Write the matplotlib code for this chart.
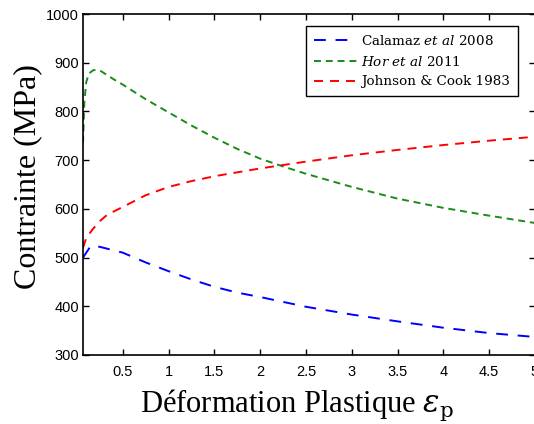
import numpy as np
import matplotlib
matplotlib.use("Agg")
import matplotlib.pyplot as plt

# courbes (deformation plastique, contrainte en MPa)
x_calamaz = [0.065, 0.15, 0.25, 0.5, 0.75, 1.0, 1.25, 1.5, 1.75, 2.0, 2.5, 3.0, 3.5, 4.0, 4.5, 5.0]
y_calamaz = [500, 524, 522, 510, 490, 472, 455, 440, 428, 419, 399, 383, 369, 356, 345, 337]

x_hor = [0.065, 0.08, 0.1, 0.13, 0.18, 0.25, 0.4, 0.5, 0.75, 1.0, 1.25, 1.5, 1.75, 2.0,
         2.25, 2.5, 3.0, 3.5, 4.0, 4.5, 5.0]
y_hor = [735, 820, 860, 878, 885, 884, 866, 855, 825, 798, 771, 746, 723, 703,
         687, 672, 645, 621, 602, 586, 571]

x_jc = [0.065, 0.1, 0.17, 0.25, 0.33, 0.5, 0.75, 1.0, 1.25, 1.5, 2.0, 2.5, 3.0, 3.5, 4.0, 4.5, 5.0]
y_jc = [520, 540, 558, 575, 588, 604, 628, 645, 657, 667, 683, 697, 710, 721, 731, 740, 748]

xticks = [0.5, 1, 1.5, 2, 2.5, 3, 3.5, 4, 4.5, 5]
yticks = [300, 400, 500, 600, 700, 800, 900, 1000]

plt.rcParams['lines.scale_dashes'] = False
plt.rcParams['mathtext.fontset'] = 'custom'
plt.rcParams['mathtext.rm'] = 'DejaVu Serif'
plt.rcParams['mathtext.it'] = 'DejaVu Serif:italic'

fig = plt.figure(figsize=(5.34, 4.24), dpi=100)
ax = fig.add_axes([83 / 534, 69 / 424, 452 / 534, 341 / 424])

l1, = ax.plot(x_calamaz, y_calamaz, color=(0, 0, 1), lw=1.4, dashes=(8.5, 7))
l2, = ax.plot(x_hor, y_hor, color=(0.1, 0.55, 0.1), lw=1.4, dashes=(5, 3.5))
l3, = ax.plot(x_jc, y_jc, color=(1, 0, 0), lw=1.4, dashes=(6.5, 5))

ax.set_xlim(0.065, 5)
ax.set_ylim(300, 1000)
ax.set_xticks(xticks)
ax.set_xticklabels([f"{t:g}" for t in xticks])
ax.set_yticks(yticks)
ax.tick_params(direction='in', top=True, right=True, length=4, width=1,
               labelsize=10.5)
ax.tick_params(axis='y', pad=3)
ax.tick_params(axis='x', pad=7)
for lab in ax.get_xticklabels() + ax.get_yticklabels():
    lab.set_fontfamily('Liberation Sans')
for sp in ax.spines.values():
    sp.set_linewidth(1.2)

ax.set_xlabel(r"Déformation Plastique $\varepsilon_\mathrm{p}$", family='Liberation Serif',
              fontsize=22)
ax.set_ylabel("Contrainte (MPa)", family='Liberation Serif', fontsize=23)
ax.xaxis.set_label_coords(0.473, -0.095)
ax.yaxis.set_label_coords(-0.09, 0.522)

leg = ax.legend([l1, l2, l3],
                [r"Calamaz $\mathit{et\ al\ 2008}$", r"$\mathit{Hor\ et\ al\ 2011}$", "Johnson & Cook 1983"],
                loc='upper right', bbox_to_anchor=(0.977, 0.985), fancybox=False,
                edgecolor='black', framealpha=1, handlelength=3.2, handletextpad=0.3,
                borderpad=0.6, labelspacing=0.5, prop={'family': 'DejaVu Serif', 'size': 9.7})
leg.get_frame().set_linewidth(1.0)

fig.savefig("out.png", dpi=100)
